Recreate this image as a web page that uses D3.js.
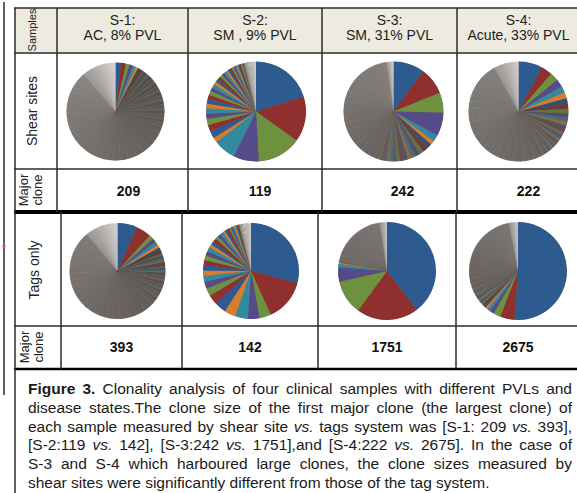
<!DOCTYPE html>
<html>
<head>
<meta charset="utf-8">
<script src="https://cdn.jsdelivr.net/npm/d3@7/dist/d3.min.js"></script>
<style>
  body { margin: 0; background: #fff; }
  #wrap { position: relative; width: 577px; height: 493px; overflow: hidden; }
  #wrap svg { position: absolute; left: 0; top: 0; }
  .cap { position: absolute; left: 28px; top: 380px; width: 544px;
         font: 15.5px "Liberation Sans", Arial, sans-serif; line-height: 18.8px; color: #1a1a1a; }
  .cap div { text-align: justify; text-align-last: justify; }
  .cap div.last { text-align-last: left; }
</style>
</head>
<body>
<div id="wrap"></div>
<script>
var samples = ["S-1:", "S-2:", "S-3:", "S-4:"];
var states = ["AC, 8% PVL", "SM , 9% PVL", "SM, 31% PVL", "Acute, 33% PVL"];
var majorShear = [209, 119, 242, 222];
var majorTags = [393, 142, 1751, 2675];

// clone sizes after the major clone, clockwise from 12 o'clock
var shearHead = [
  [185, 140, 130, 110, 100, 95, 90, 85, 80, 75, 70],
  [86, 84, 48, 42, 10, 14, 12, 12, 10, 10, 9, 9, 8, 8, 7, 7, 6, 6, 6, 5, 5, 5, 4, 4, 4, 4, 3, 3, 3, 3, 3, 3, 2, 2, 2, 2, 2, 2, 2, 2, 1, 1, 1, 1, 1, 1, 1, 1, 1, 1],
  [210, 155, 180, 52, 33, 40, 38, 36, 34, 33, 32, 30, 30, 28, 27, 26, 25, 24, 23, 22],
  [100, 80, 70, 62, 55, 50, 46, 42, 40, 38, 36, 34, 32, 30, 28]
];
// runs of small clones: [number of clones, size]
var shearTail = [
  [[30, 60], [50, 50], [60, 42], [60, 35], [40, 28]],
  [],
  [[40, 10], [60, 7], [50, 5]],
  [[40, 16], [60, 11], [50, 8], [35, 5]]
];
var tagsHead = [
  [300, 90, 80, 70, 65, 60, 55, 50, 48, 45, 42, 40, 38, 36, 34],
  [69, 19, 19, 21, 19, 19, 16, 13, 11, 10, 9, 9, 8, 8, 7, 7, 6, 6, 6, 5, 5, 5, 4, 4, 4, 3, 3, 3, 3, 3, 2, 2, 2, 2, 2, 2, 2, 1, 1, 1, 1, 1, 1, 1, 1],
  [900, 505, 210, 50, 20],
  [245, 125, 72, 57, 42, 40, 36, 32, 30, 28, 26, 24, 22, 20]
];
var tagsTail = [
  [[50, 30], [70, 22], [60, 15], [40, 13]],
  [],
  [[30, 10], [50, 7], [60, 4], [30, 3]],
  [[40, 16], [50, 12], [40, 9], [30, 5]]
];

var palette = ["#2e5b8f", "#8f302e", "#6e913f", "#574a89", "#338aa0", "#d67d30"];
var grayBase = "#6e6864";
var font = '"Liberation Sans", Arial, sans-serif';

// layout
var topCols = [15, 57, 188, 322, 457, 640];
var botCols = [15, 61, 182, 318, 456, 640];
var yTop = 8, yHead = 53, yShear = 169, yMid = 212, yTags = 326, yCap = 369;
var pieTopNudge = [-7, 1, 4, 0], pieBotNudge = [-4, 1, 0, 0];
var topStyle = [
  {vivid: 6, m0: 0.45, light: 0.885, s0: -0.24, s1: 0.24, r: 49},
  {vivid: 46, m0: 0.3, light: 0.965, s0: 0, s1: 0, r: 50},
  {vivid: 6, m0: 0.25, light: 0.978, s0: -0.15, s1: 0.22, r: 50},
  {vivid: 6, m0: 0.2, light: 0.92, s0: -0.15, s1: 0.2, r: 50}
];
var botStyle = [
  {vivid: 6, m0: 0.3, light: 0.89, s0: -0.22, s1: 0.18, r: 48},
  {vivid: 40, m0: 0.3, light: 0.965, s0: 0, s1: 0, r: 48},
  {vivid: 6, m0: 0.55, light: 0.975, s0: 0.02, s1: 0.14, r: 49},
  {vivid: 6, m0: 0.2, light: 0.97, s0: -0.12, s1: 0.14, r: 49}
];

var wrap = d3.select("#wrap");
var svg = wrap.append("svg").attr("width", 577).attr("height", 493);

function expand(major, head, tail) {
  var vals = [major].concat(head);
  tail.forEach(function(run) {
    d3.range(run[0]).forEach(function() { vals.push(run[1]); });
  });
  return vals;
}

function shade(c, s) {
  var col = d3.rgb(c);
  if (s < 0) return d3.rgb(col.r * (1 + s), col.g * (1 + s), col.b * (1 + s)).formatHex();
  return d3.rgb(col.r + (255 - col.r) * s, col.g + (255 - col.g) * s, col.b + (255 - col.b) * s).formatHex();
}

var pie = d3.pie().sort(null).value(function(d) { return d; });

function drawPie(vals, cx, cy, st) {
  var arcs = pie(vals);
  var arc = d3.arc().innerRadius(0).outerRadius(st.r);
  var aV = arcs[Math.min(st.vivid, arcs.length - 1)].startAngle / (2 * Math.PI);
  var g = svg.append("g").attr("transform", "translate(" + cx + "," + cy + ")");
  g.append("circle").attr("r", st.r - 0.3).attr("fill", grayBase);
  g.selectAll("path")
    .data(arcs)
    .enter().append("path")
    .attr("d", arc)
    .attr("fill", function(d, i) {
      var c = palette[i % 6];
      var a = (d.startAngle + d.endAngle) / 2 / (2 * Math.PI);
      if (a >= st.light) {
        var cl = d3.interpolateRgb(c, grayBase)(0.85);
        return shade(cl, 0.38 + 0.54 * (a - st.light) / (1 - st.light));
      }
      if (i < st.vivid) return c;
      var t = (a - aV) / Math.max(0.001, st.light - aV);
      var m = Math.min(0.86, st.m0 + (0.86 - st.m0) * t * 3);
      var c2 = d3.interpolateRgb(c, grayBase)(m);
      return shade(c2, st.s0 + (st.s1 - st.s0) * t);
    });
}

// header band
svg.append("rect")
  .attr("x", topCols[0]).attr("y", yTop)
  .attr("width", 577 - topCols[0]).attr("height", yHead - yTop)
  .attr("fill", "#edeadf");

// pies
samples.forEach(function(s, i) {
  var cxT = (topCols[i + 1] + Math.min(topCols[i + 2], 580)) / 2;
  var cxB = (botCols[i + 1] + Math.min(botCols[i + 2], 580)) / 2;
  drawPie(expand(majorShear[i], shearHead[i], shearTail[i]), cxT + pieTopNudge[i], (yHead + yShear) / 2 + 0.5, topStyle[i]);
  drawPie(expand(majorTags[i], tagsHead[i], tagsTail[i]), cxB + pieBotNudge[i], (yMid + yTags) / 2 + 2, botStyle[i]);
});

// grid lines
var line = svg.append("g").attr("stroke", "#2b2b2b").attr("fill", "none");
[yTop, yHead, yShear, yTags].forEach(function(y) {
  line.append("line").attr("x1", 14).attr("x2", 577).attr("y1", y).attr("y2", y).attr("stroke-width", 1.5);
});
line.append("line").attr("x1", 14).attr("x2", 577).attr("y1", yMid).attr("y2", yMid).attr("stroke-width", 4).attr("stroke", "#000");
line.append("line").attr("x1", 14).attr("x2", 577).attr("y1", yCap).attr("y2", yCap).attr("stroke-width", 2.5).attr("stroke", "#000");
topCols.slice(0, 5).forEach(function(x) {
  line.append("line").attr("x1", x).attr("x2", x).attr("y1", yTop).attr("y2", yMid).attr("stroke-width", 1.5);
});
botCols.slice(0, 5).forEach(function(x) {
  line.append("line").attr("x1", x).attr("x2", x).attr("y1", yMid).attr("y2", yCap).attr("stroke-width", 1.5);
});
line.append("line").attr("x1", 15).attr("x2", 15).attr("y1", yCap).attr("y2", 493).attr("stroke-width", 1.5);
line.append("line").attr("x1", 4).attr("x2", 4).attr("y1", 2).attr("y2", 395).attr("stroke-width", 1.5);
svg.append("circle").attr("cx", 4).attr("cy", 246).attr("r", 1.6).attr("fill", "#d9534f");

// texts
var txt = svg.append("g").attr("font-family", font).attr("fill", "#222");

samples.forEach(function(s, i) {
  var cx = (topCols[i + 1] + Math.min(topCols[i + 2], 580)) / 2;
  txt.append("text").attr("x", cx).attr("y", 25).attr("text-anchor", "middle").attr("font-size", 14).text(s);
  txt.append("text").attr("x", cx).attr("y", 40).attr("text-anchor", "middle").attr("font-size", 14).text(states[i]);
});

function vlabel(lines, x, y, size) {
  var t = txt.append("text")
    .attr("transform", "translate(" + x + "," + y + ") rotate(-90)")
    .attr("text-anchor", "middle").attr("font-size", size);
  lines.forEach(function(l, k) {
    t.append("tspan").attr("x", 0).attr("dy", k === 0 ? 0 : size * 1.05).text(l);
  });
  return t;
}
vlabel(["Samples"], 36, 30, 11);
vlabel(["Shear sites"], 37, 111, 14);
vlabel(["Major", "clone"], 28, 190, 13);
vlabel(["Tags only"], 39, 270, 14);
vlabel(["Major", "clone"], 29, 347, 13);

var numG = svg.append("g").attr("font-family", font).attr("font-weight", "bold").attr("font-size", 14).attr("fill", "#111").attr("text-anchor", "middle");
var numTopNudge = [6, 5, 13, 10];
majorShear.forEach(function(v, i) {
  var cx = (topCols[i + 1] + Math.min(topCols[i + 2], 580)) / 2;
  numG.append("text").attr("x", cx + numTopNudge[i]).attr("y", 196).text(v);
});
majorTags.forEach(function(v, i) {
  var cx = (botCols[i + 1] + Math.min(botCols[i + 2], 580)) / 2;
  numG.append("text").attr("x", cx).attr("y", 352).text(v);
});

// caption
var capLines = [
  "<b>Figure 3.</b> Clonality analysis of four clinical samples with different PVLs and",
  "disease states.The clone size of the first major clone (the largest clone) of",
  "each sample measured by shear site <i>vs.</i> tags system was [S-1: 209 <i>vs.</i> 393],",
  "[S-2:119 <i>vs.</i> 142], [S-3:242 <i>vs.</i> 1751],and [S-4:222 <i>vs.</i> 2675]. In the case of",
  "S-3 and S-4 which harboured large clones, the clone sizes measured by",
  "shear sites were significantly different from those of the tag system."
];
wrap.append("div").attr("class", "cap")
  .selectAll("div")
  .data(capLines)
  .enter().append("div")
  .attr("class", function(d, i) { return i === capLines.length - 1 ? "last" : null; })
  .html(function(d) { return d; });
</script>
</body>
</html>
